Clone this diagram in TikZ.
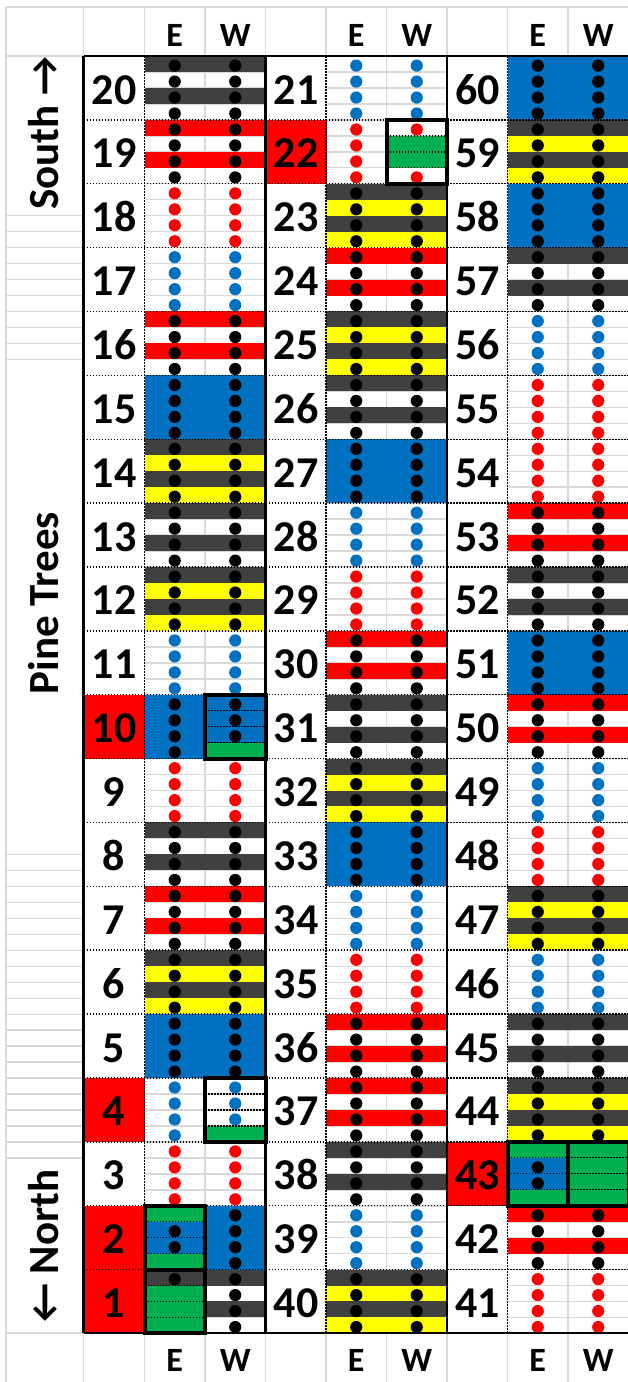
\documentclass[tikz,border=0pt]{standalone}
\usepackage{fontspec}
\setmainfont{Carlito}
\newfontfamily\carl{Carlito}
\definecolor{dgray}{HTML}{404040}
\definecolor{xred}{HTML}{FF0000}
\definecolor{xyel}{HTML}{FFFF00}
\definecolor{xblue}{HTML}{0070C0}
\definecolor{xgreen}{HTML}{00B050}
\definecolor{gridgray}{HTML}{D9D9D9}
\newcommand\XFill[4]{\fill[#4] (#1,{56+#2*63.87+#3*15.97}) rectangle ++(60.5,15.97);}
\newcommand\XDot[4]{\fill[#4] ({#1+30.25},{56+#2*63.87+#3*15.97+9.6}) circle[radius=6.1pt];}
\newcommand\XDots[3]{\XDot{#1}{#2}{0}{#3}\XDot{#1}{#2}{1}{#3}\XDot{#1}{#2}{2}{#3}\XDot{#1}{#2}{3}{#3}}
\newcommand\PatD[2]{\XFill{#1}{#2}{0}{dgray}\XFill{#1}{#2}{2}{dgray}\XDots{#1}{#2}{black}}
\newcommand\PatR[2]{\XFill{#1}{#2}{0}{xred}\XFill{#1}{#2}{2}{xred}\XDots{#1}{#2}{black}}
\newcommand\PatY[2]{\XFill{#1}{#2}{0}{dgray}\XFill{#1}{#2}{1}{xyel}\XFill{#1}{#2}{2}{dgray}\XFill{#1}{#2}{3}{xyel}\XDots{#1}{#2}{black}}
\newcommand\PatB[2]{\fill[xblue] (#1,{56+#2*63.87}) rectangle ++(60.5,63.87);\XDots{#1}{#2}{black}}
\newcommand\Patrd[2]{\XDots{#1}{#2}{xred}}
\newcommand\Patbd[2]{\XDots{#1}{#2}{xblue}}
\newcommand\PatBoth[4]{\csname Pat#4\endcsname{#1}{#3}\csname Pat#4\endcsname{#2}{#3}}
\newcommand\XSep[2]{\foreach \kk in {1,2,3}{\draw[hatchline] (#1,{56+#2*63.87+\kk*15.97}) -- ++(60.5,0);}}
\newcommand\XBox[2]{\draw[line width=4pt] (#1,{56+#2*63.87}) rectangle ++(60.5,63.87);}
\newcommand\XRedNum[2]{\fill[xred] (#1,{56+#2*63.87}) rectangle ++(61,63.87);}
\begin{document}
\begin{tikzpicture}[x=1pt,y=-1pt,
  gline/.style={draw=gridgray,line width=1.4pt},
  hatchline/.style={draw=black,line width=1.4pt,dash pattern=on 1.6pt off 1.4pt},
  thickline/.style={draw=black,line width=2.6pt},
  numtxt/.style={font=\carl\bfseries\fontsize{44}{44}\selectfont,anchor=base,inner sep=0pt},
  hdtxt/.style={font=\carl\bfseries\fontsize{34}{34}\selectfont,anchor=base,inner sep=0pt},
  sidetxt/.style={font=\carl\bfseries\fontsize{43}{43}\selectfont,rotate=90,inner sep=0pt}]
\useasboundingbox (0,0) rectangle (627,1382);
\fill[white] (0,0) rectangle (627,1382);
% ---- gridlines
\draw[gline] (6,7) -- (630,7);
\draw[gline] (6,7) -- (6,1382);
\foreach \x in {83.5,144.5,205,265.5,326,386.5,447,507.5,568}{
  \draw[gline] (\x,7) -- (\x,56);
  \draw[gline] (\x,1333) -- (\x,1382);}
\draw[gline] (6,56) -- (83.5,56);
\draw[gline] (6,1333) -- (83.5,1333);
\foreach \k in {10,...,19,50,51,...,69}{\draw[gline] (6,{56+\k*15.97}) -- (83.5,{56+\k*15.97});}
\foreach \xe in {144.5,326,507.5}{
  \foreach \k in {1,...,79}{\draw[gline] (\xe,{56+\k*15.97}) -- ++(121,0);}
  \draw[gline] ({\xe+60.5},56) -- ({\xe+60.5},1333);}
% ---- red number cells
\XRedNum{83.5}{10}\XRedNum{83.5}{16}\XRedNum{83.5}{18}\XRedNum{83.5}{19}
\XRedNum{265.5}{1}\XRedNum{447}{17}
% ---- group A
\foreach \r/\ty in {0/D,1/R,2/rd,3/bd,4/R,5/B,6/Y,7/D,8/Y,9/bd,11/rd,12/D,13/R,14/Y,15/B,17/rd}{\PatBoth{144.5}{205}{\r}{\ty}}
\PatB{144.5}{10}
\XFill{205}{10}{0}{xblue}\XFill{205}{10}{1}{xblue}\XFill{205}{10}{2}{xblue}\XFill{205}{10}{3}{xgreen}
\XDot{205}{10}{0}{black}\XDot{205}{10}{1}{black}\XDot{205}{10}{2}{black}
\Patbd{144.5}{16}
\XFill{205}{16}{3}{xgreen}
\XDot{205}{16}{0}{xblue}\XDot{205}{16}{1}{xblue}\XDot{205}{16}{2}{xblue}
\XFill{144.5}{18}{0}{xgreen}\XFill{144.5}{18}{1}{xblue}\XFill{144.5}{18}{2}{xblue}\XFill{144.5}{18}{3}{xgreen}
\XDot{144.5}{18}{1}{black}\XDot{144.5}{18}{2}{black}
\PatB{205}{18}
\XFill{144.5}{19}{0}{dgray}\XFill{144.5}{19}{1}{xgreen}\XFill{144.5}{19}{2}{xgreen}\XFill{144.5}{19}{3}{xgreen}
\XDot{144.5}{19}{0}{black}
\PatD{205}{19}
% ---- group B
\foreach \r/\ty in {0/bd,2/Y,3/R,4/Y,5/D,6/B,7/bd,8/rd,9/R,10/D,11/Y,12/B,13/bd,14/rd,15/R,16/R,17/D,18/bd,19/Y}{\PatBoth{326}{386.5}{\r}{\ty}}
\Patrd{326}{1}
\XFill{386.5}{1}{1}{xgreen}\XFill{386.5}{1}{2}{xgreen}
\XDot{386.5}{1}{0}{xred}\XDot{386.5}{1}{3}{xred}
% ---- group C
\foreach \r/\ty in {0/B,1/Y,2/B,3/D,4/bd,5/rd,6/rd,7/R,8/D,9/B,10/R,11/bd,12/rd,13/Y,14/bd,15/D,16/Y,18/R,19/rd}{\PatBoth{507.5}{568}{\r}{\ty}}
\XFill{507.5}{17}{0}{xgreen}\XFill{507.5}{17}{1}{xblue}\XFill{507.5}{17}{2}{xblue}\XFill{507.5}{17}{3}{xgreen}
\XDot{507.5}{17}{1}{black}\XDot{507.5}{17}{2}{black}
\fill[xgreen] (568,{56+17*63.87}) rectangle ++(60.5,63.87);
% ---- dashed (hatch) borders
\foreach \xl/\xm/\xr in {83.5/144.5/265.5,265.5/326/447,447/507.5/630}{
  \foreach \r in {1,...,19}{\draw[hatchline] (\xl,{56+\r*63.87}) -- (\xr,{56+\r*63.87});}
  \draw[hatchline] (\xm,56) -- (\xm,1333);}
\XSep{205}{10}\XSep{205}{16}\XSep{144.5}{18}\XSep{144.5}{19}\XSep{386.5}{1}\XSep{507.5}{17}\XSep{568}{17}
% ---- thick borders
\draw[thickline] (83.5,56) -- (630,56);
\draw[thickline] (83.5,1333) -- (630,1333);
\foreach \x in {83.5,265.5,447}{\draw[thickline] (\x,56) -- (\x,1333);}
\XBox{205}{10}\XBox{205}{16}\XBox{144.5}{18}\XBox{144.5}{19}\XBox{386.5}{1}\XBox{507.5}{17}\XBox{568}{17}
% ---- headers
\foreach \xe/\nm in {144.5/a,326/b,507.5/c}{
  \node[hdtxt] (hE\nm) at ({\xe+30.25},46.7) {E};
  \node[hdtxt] (hW\nm) at ({\xe+90.75},46.7) {W};
  \node[hdtxt] (fE\nm) at ({\xe+30.25},1371.5) {E};
  \node[hdtxt] (fW\nm) at ({\xe+90.75},1371.5) {W};}
% ---- numbers
\foreach \r in {0,...,19}{
  \pgfmathtruncatemacro\na{20-\r}
  \pgfmathtruncatemacro\nb{21+\r}
  \pgfmathtruncatemacro\nc{60-\r}
  \node[numtxt] (n\na) at (114,{56+\r*63.87+48}) {\na};
  \node[numtxt] (n\nb) at (296,{56+\r*63.87+48}) {\nb};
  \node[numtxt] (n\nc) at (477.5,{56+\r*63.87+48}) {\nc};}
% ---- side labels
\node[sidetxt] (south) at (44,133) {South →};
\node[sidetxt] (pine) at (44,603) {Pine Trees};
\node[sidetxt] (north) at (44,1246) {← North};
\end{tikzpicture}
\end{document}
